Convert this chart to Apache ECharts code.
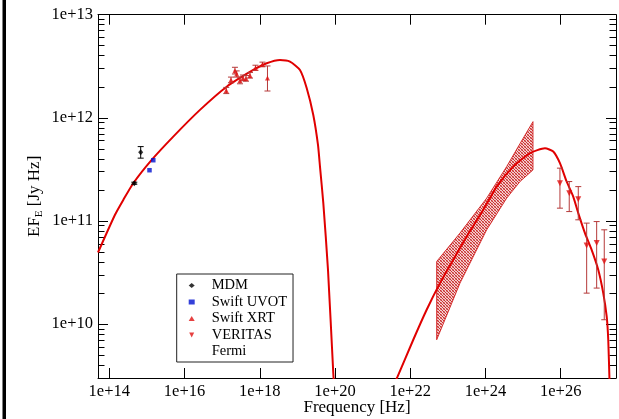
<!DOCTYPE html>
<html>
<head>
<meta charset="utf-8">
<script src="https://cdn.jsdelivr.net/npm/echarts@6/dist/echarts.min.js"></script>
<style>
  html, body { margin: 0; padding: 0; background: #fff; }
  #chart { width: 619px; height: 419px; }
</style>
</head>
<body>
<div id="chart"></div>
<script>
// SED plot, both axes in log10 units (value axes, labels written as 1e+N)

const FONT = 'Liberation Serif'

// axis ticks
const xTicks = [14, 16, 18, 20, 22, 24, 26]
const yTicks = [10, 11, 12, 13]

// synchrotron model curve (log10 nu, log10 nuFnu)
const syncLogNu = [13.70, 14.152, 14.372, 14.638, 15.127, 15.701, 16.411, 17.121, 17.828, 18.184, 18.537, 18.803, 19.069, 19.247, 19.423, 19.548, 19.601, 19.689, 19.814, 19.954, 20.0]
const syncLogFlux = [10.694, 11.06, 11.204, 11.366, 11.592, 11.818, 12.077, 12.302, 12.464, 12.529, 12.561, 12.545, 12.464, 12.290, 12.028, 11.737, 11.527, 11.175, 10.526, 9.528, 9.26]

// inverse Compton model curve
const icLogNu = [21.60, 21.666, 22.081, 22.437, 22.791, 23.144, 23.500, 23.942, 24.298, 24.739, 25.183, 25.582, 25.802, 25.980, 26.155, 26.333, 26.467, 26.645, 26.823, 26.998, 27.131, 27.222, 27.264, 27.295, 27.33]
const icLogFlux = [9.44, 9.492, 9.848, 10.139, 10.397, 10.623, 10.849, 11.108, 11.333, 11.527, 11.657, 11.705, 11.673, 11.560, 11.385, 11.236, 11.076, 10.882, 10.720, 10.526, 10.300, 10.074, 9.848, 9.48, 9.1]

// Fermi bowtie
const fermiLogNu = [22.703, 23.322, 24.032, 24.563, 24.917, 25.263]
const fermiUpper = [10.607, 10.882, 11.221, 11.527, 11.749, 11.963]
const fermiLower = [9.848, 10.397, 10.914, 11.221, 11.382, 11.495]

// MDM
const mdmLogNu = [14.665, 14.835]
const mdmLogFlux = [11.366, 11.667]
const mdmLo = [11.356, 11.609]
const mdmHi = [11.376, 11.721]

// Swift UVOT
const uvotLogNu = [15.069, 15.170]
const uvotLogFlux = [11.492, 11.589]

// Swift XRT
const xrtLogNu = [17.110, 17.235, 17.341, 17.387, 17.474, 17.554, 17.634, 17.740, 17.886, 18.072, 18.205]
const xrtLogFlux = [12.265, 12.367, 12.457, 12.425, 12.362, 12.387, 12.382, 12.411, 12.484, 12.517, 12.387]
const xrtLo = [12.235, 12.340, 12.425, 12.395, 12.330, 12.360, 12.355, 12.385, 12.460, 12.495, 12.260]
const xrtHi = [12.295, 12.395, 12.490, 12.455, 12.395, 12.415, 12.410, 12.440, 12.510, 12.540, 12.503]

// VERITAS
const verLogNu = [25.980, 26.227, 26.467, 26.690, 26.956, 27.158]
const verLogFlux = [11.366, 11.269, 11.211, 10.762, 10.785, 10.607]
const verLo = [11.124, 11.091, 11.011, 10.300, 10.349, 10.042]
const verHi = [11.512, 11.382, 11.333, 10.979, 10.994, 10.914]

const X_MIN = 13.70, X_MAX = 27.47
const Y_MIN = Math.log10(3e9), Y_MAX = 13

// log minor ticks (2..9 of every decade)
const yMinor = []
for (let d = 9; d <= 12; d++) {
  for (let k = 2; k <= 9; k++) {
    const v = d + Math.log10(k)
    if (v > Y_MIN + 0.005 && v < Y_MAX) yMinor.push(v)
  }
}

const zip = (a, b) => a.map((v, i) => [v, b[i]])
const zip3 = (a, b, c) => a.map((v, i) => [v, b[i], c[i]])

// cross hatch for the bowtie
function hatch () {
  const c = document.createElement('canvas')
  c.width = 3
  c.height = 3
  const g = c.getContext('2d')
  g.fillStyle = 'rgba(235,170,170,0.55)'
  g.fillRect(0, 0, 3, 3)
  g.fillStyle = 'rgba(200,30,30,0.9)'
  g.fillRect(0, 0, 1, 1)
  g.fillRect(1, 1, 1, 1)
  g.fillRect(2, 2, 1, 1)
  g.fillStyle = 'rgba(200,60,60,0.5)'
  g.fillRect(2, 0, 1, 1)
  g.fillRect(0, 2, 1, 1)
  return c
}
const hatchFill = { image: hatch(), repeat: 'repeat' }

function errorBars (color) {
  return function (params, api) {
    const x = api.value(0)
    const lo = api.coord([x, api.value(1)])
    const hi = api.coord([x, api.value(2)])
    const w = 3
    const style = { stroke: color, lineWidth: 1 }
    return {
      type: 'group',
      children: [
        { type: 'line', shape: { x1: lo[0], y1: lo[1], x2: hi[0], y2: hi[1] }, style },
        { type: 'line', shape: { x1: lo[0] - w, y1: lo[1], x2: lo[0] + w, y2: lo[1] }, style },
        { type: 'line', shape: { x1: hi[0] - w, y1: hi[1], x2: hi[0] + w, y2: hi[1] }, style }
      ]
    }
  }
}

const axisFont = { fontFamily: FONT, fontSize: 16.5, color: '#000' }
const black = { color: '#000', width: 1 }

const chart = echarts.init(document.getElementById('chart'))

const option = {
  animation: false,
  backgroundColor: '#fff',
  grid: { left: 98, right: 3, top: 14.7, bottom: 41, outerBoundsMode: 'none' },
  graphic: [
    { type: 'rect', shape: { x: 2.5, y: 0, width: 3.5, height: 419 }, style: { fill: '#000' } }
  ],
  legend: {
    orient: 'vertical',
    left: 176.7,
    top: 274,
    selectedMode: false,
    borderColor: '#222',
    borderWidth: 1,
    backgroundColor: '#fff',
    padding: [4, 6, 3, 12],
    itemWidth: 6,
    itemHeight: 5,
    itemGap: 1.5,
    textStyle: { fontFamily: FONT, fontSize: 14.5, lineHeight: 14, color: '#000', padding: [0, 0, 0, 12] },
    data: [
      { name: 'MDM', icon: 'diamond', itemStyle: { color: '#000' } },
      { name: 'Swift UVOT', icon: 'rect', itemStyle: { color: '#0010d0' } },
      { name: 'Swift XRT', icon: 'triangle', itemStyle: { color: '#e01010' } },
      { name: 'VERITAS', icon: 'path://M0,0 L10,0 L5,10 Z', itemStyle: { color: '#e01010' } },
      { name: 'Fermi', icon: 'none' }
    ]
  },
  xAxis: [
    {
      type: 'value', min: X_MIN, max: X_MAX, position: 'bottom',
      axisLine: { lineStyle: black },
      axisTick: { inside: true, length: 10, customValues: xTicks, lineStyle: black },
      axisLabel: Object.assign({ customValues: xTicks, margin: 5, formatter: v => '1e+' + v }, axisFont),
      splitLine: { show: false },
      name: 'Frequency [Hz]',
      nameLocation: 'middle',
      nameGap: 21,
      nameMoveOverlap: false,
      nameTextStyle: { fontFamily: FONT, fontSize: 17, color: '#000' }
    },
    {
      type: 'value', min: X_MIN, max: X_MAX, position: 'top',
      axisLine: { lineStyle: black },
      axisTick: { inside: true, length: 10, customValues: xTicks, lineStyle: black },
      axisLabel: { show: false },
      splitLine: { show: false }
    }
  ],
  yAxis: [
    {
      type: 'value', min: Y_MIN, max: Y_MAX, position: 'left',
      axisLine: { show: true, lineStyle: black },
      axisTick: { inside: true, length: 10, customValues: yTicks, lineStyle: black },
      axisLabel: Object.assign({ customValues: yTicks, margin: 5, formatter: v => '1e+' + v }, axisFont),
      splitLine: { show: false },
      name: '{n|EF}{s|E}{n| [Jy Hz]}',
      nameLocation: 'middle',
      nameGap: 53,
      nameMoveOverlap: false,
      nameTextStyle: {
        color: '#000',
        rich: {
          n: { fontFamily: FONT, fontSize: 17, color: '#000' },
          s: { fontFamily: FONT, fontSize: 11, color: '#000', padding: [9, 0, 0, 0] }
        }
      }
    },
    {
      type: 'value', min: Y_MIN, max: Y_MAX, position: 'left',
      axisLine: { show: false },
      axisTick: { inside: true, length: 6.5, customValues: yMinor, lineStyle: black },
      axisLabel: { show: false },
      splitLine: { show: false }
    },
    {
      type: 'value', min: Y_MIN, max: Y_MAX, position: 'right',
      axisLine: { show: true, lineStyle: black },
      axisTick: { inside: true, length: 10, customValues: yTicks, lineStyle: black },
      axisLabel: { show: false },
      splitLine: { show: false }
    },
    {
      type: 'value', min: Y_MIN, max: Y_MAX, position: 'right',
      axisLine: { show: false },
      axisTick: { inside: true, length: 6.5, customValues: yMinor, lineStyle: black },
      axisLabel: { show: false },
      splitLine: { show: false }
    }
  ],
  series: [
    {
      name: 'Fermi',
      type: 'custom',
      data: zip3(fermiLogNu, fermiLower, fermiUpper),
      encode: { x: 0, y: [1, 2] },
      renderItem: function (params, api) {
        if (params.dataIndex !== 0) return null
        const top = fermiLogNu.map((x, i) => api.coord([x, fermiUpper[i]]))
        const bottom = fermiLogNu.map((x, i) => api.coord([x, fermiLower[i]])).reverse()
        return {
          type: 'polygon',
          shape: { points: top.concat(bottom) },
          style: { fill: hatchFill, stroke: 'rgba(210,30,30,0.9)', lineWidth: 1 }
        }
      },
      z: 1
    },
    {
      name: 'sync',
      type: 'line',
      data: zip(syncLogNu, syncLogFlux),
      showSymbol: false,
      smooth: 0.2,
      lineStyle: { color: '#e00000', width: 2 },
      z: 3
    },
    {
      name: 'ic',
      type: 'line',
      data: zip(icLogNu, icLogFlux),
      showSymbol: false,
      smooth: 0.2,
      lineStyle: { color: '#e00000', width: 2 },
      z: 3
    },
    {
      name: 'MDM err',
      type: 'custom',
      data: zip3(mdmLogNu, mdmLo, mdmHi),
      encode: { x: 0, y: [1, 2] },
      renderItem: errorBars('#000'),
      z: 4
    },
    {
      name: 'Swift XRT err',
      type: 'custom',
      data: zip3(xrtLogNu, xrtLo, xrtHi),
      encode: { x: 0, y: [1, 2] },
      renderItem: errorBars('#b53a3a'),
      z: 4
    },
    {
      name: 'VERITAS err',
      type: 'custom',
      data: zip3(verLogNu, verLo, verHi),
      encode: { x: 0, y: [1, 2] },
      renderItem: errorBars('#b53a3a'),
      z: 4
    },
    {
      name: 'MDM',
      type: 'scatter',
      data: zip(mdmLogNu, mdmLogFlux),
      symbol: 'diamond',
      symbolSize: [5, 6],
      itemStyle: { color: '#000' },
      z: 5
    },
    {
      name: 'Swift UVOT',
      type: 'scatter',
      data: zip(uvotLogNu, uvotLogFlux),
      symbol: 'rect',
      symbolSize: 4.5,
      itemStyle: { color: '#0010d0' },
      z: 5
    },
    {
      name: 'Swift XRT',
      type: 'scatter',
      data: zip(xrtLogNu, xrtLogFlux),
      symbol: 'triangle',
      symbolSize: 5,
      itemStyle: { color: '#e01010' },
      z: 5
    },
    {
      name: 'VERITAS',
      type: 'scatter',
      data: zip(verLogNu, verLogFlux),
      symbol: 'path://M0,0 L10,0 L5,10 Z',
      symbolSize: 6,
      itemStyle: { color: '#e01010' },
      z: 5
    }
  ]
}

chart.setOption(option)
</script>
</body>
</html>
